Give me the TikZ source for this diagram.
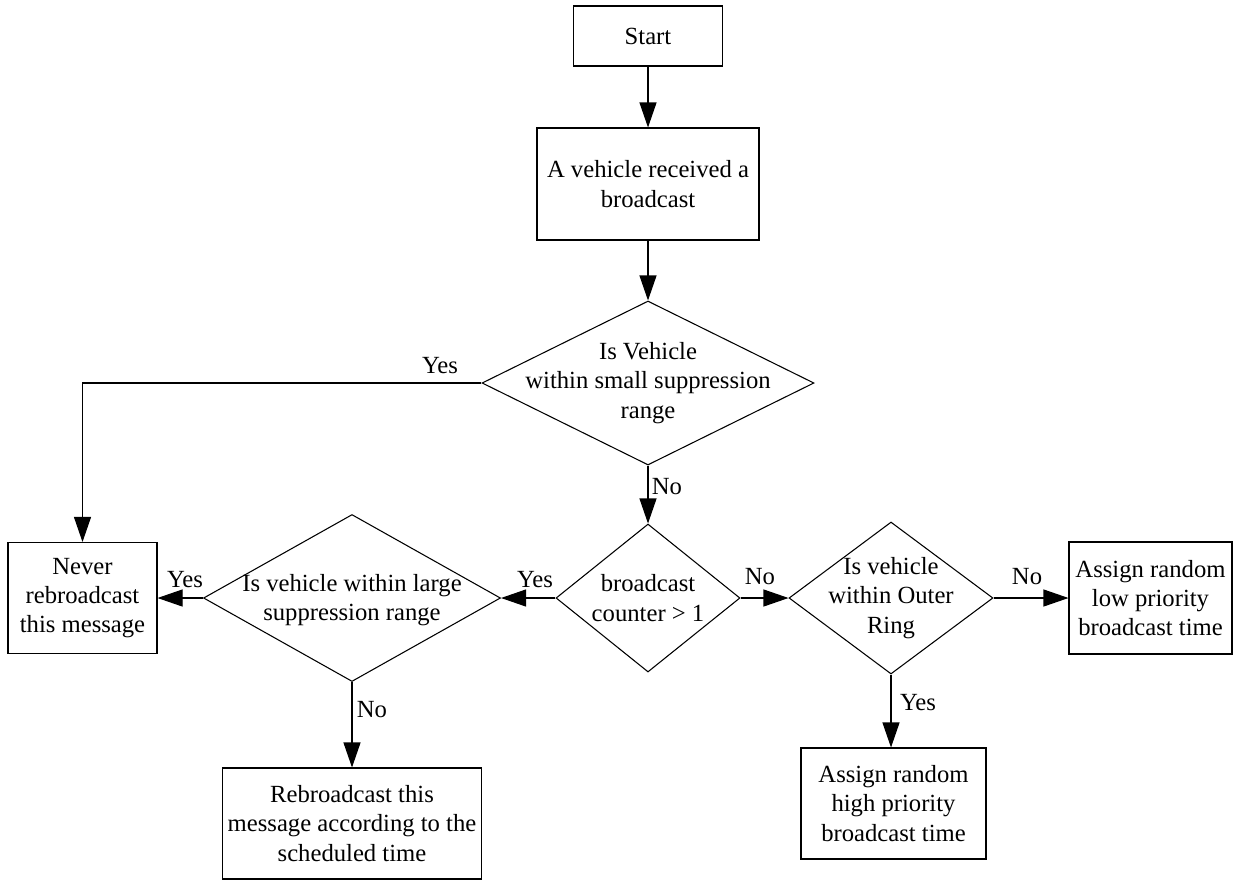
\documentclass[tikz,border=0pt]{standalone}
\usepackage{fontspec}
\setmainfont{Liberation Serif}
\usetikzlibrary{shapes.geometric,arrows.meta}
\begin{document}
\begin{tikzpicture}[x=0.75pt,y=-0.75pt,
  every node/.style={font=\fontsize{18.5}{22}\selectfont},
  box/.style={draw, line width=0.8pt, align=center, inner sep=0pt},
  dec/.style={draw, diamond, line width=0.8pt, inner sep=0pt},
  dectext/.style={align=center, inner sep=0pt},
  lbl/.style={inner sep=0pt},
  flow/.style={line width=0.8pt, -{Triangle[length=18.75pt,width=12.75pt]}},
]
\useasboundingbox (0,0) rectangle (1234,882);

% process boxes
\node[box, minimum width=111.75pt, minimum height=45pt] (start) at (648,36) {Start};
\node[box, minimum width=166.5pt, minimum height=84pt] (recv) at (648,184) {A vehicle received a\\broadcast};
\node[box, minimum width=111.75pt, minimum height=83.25pt] (never) at (82.5,598) {Never\\rebroadcast\\this message};
\node[box, minimum width=122.25pt, minimum height=84pt] (low) at (1150.5,598) {Assign random\\low priority\\broadcast time};
\node[box, minimum width=138.75pt, minimum height=83.25pt] (high) at (893.5,803.5) {Assign random\\high priority\\broadcast time};
\node[box, minimum width=194.25pt, minimum height=83.25pt] (rebc) at (352,823.5) {Rebroadcast this\\message according to the\\scheduled time};

% decisions
\node[dec, minimum width=249pt, minimum height=123pt] (small) at (648,383) {};
\node[dectext] at (small.center) {Is Vehicle\\within small suppression\\range};
\node[dec, minimum width=138pt, minimum height=111pt] (count) at (648,598) {};
\node[dectext] at (count.center) {broadcast\\counter > 1};
\node[dec, minimum width=222.75pt, minimum height=125.25pt] (large) at (352,598) {};
\node[dectext] at ([yshift=-1.5pt]large.center) {Is vehicle within large\\suppression range};
\node[dec, minimum width=153pt, minimum height=114pt] (outer) at (891,598) {};
\node[dectext] at (outer.center) {Is vehicle\\within Outer\\Ring};

% connectors
\draw[flow] (start) -- (recv);
\draw[flow] (recv) -- (small);
\draw[flow] (small.west) -| (never.north);
\draw[flow] (small) -- (count);
\draw[flow] (count.west) -- (large.east);
\draw[flow] (large.west) -- (never.east);
\draw[flow] (large.south) -- (rebc.north);
\draw[flow] (count.east) -- (outer.west);
\draw[flow] (outer.east) -- (low.west);
\draw[flow] (outer.south) -- (outer.south |- high.north);

% branch labels
\node[lbl] (y1) at (440,366) {Yes};
\node[lbl] (n1) at (667,487) {No};
\node[lbl] (y2) at (535,580) {Yes};
\node[lbl] (n2) at (760,577) {No};
\node[lbl] (y3) at (185,580) {Yes};
\node[lbl] (n3) at (372,710) {No};
\node[lbl] (n4) at (1027,577) {No};
\node[lbl] (y4) at (918,703) {Yes};
\end{tikzpicture}
\end{document}
